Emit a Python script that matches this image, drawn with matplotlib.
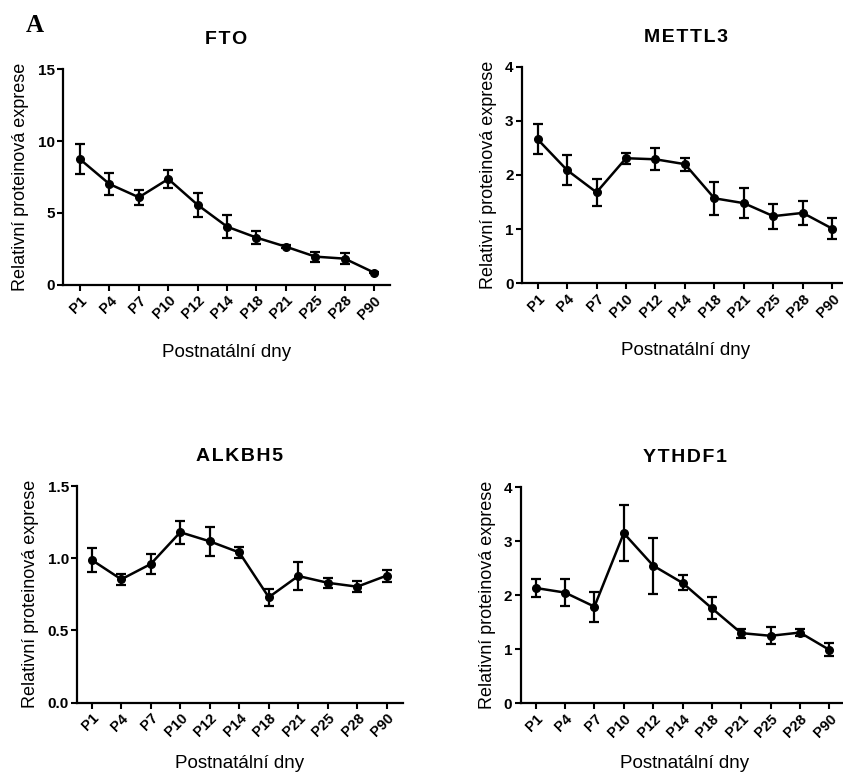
import matplotlib
matplotlib.use("Agg")
import matplotlib.pyplot as plt
import numpy as np

plt.rcParams['font.family'] = ['Liberation Sans', 'DejaVu Sans']

days = ["P1", "P4", "P7", "P10", "P12", "P14", "P18", "P21", "P25", "P28", "P90"]

fto_mean = [8.73, 7.01, 6.09, 7.36, 5.56, 4.05, 3.29, 2.66, 1.97, 1.83, 0.86]
fto_err = [1.05, 0.75, 0.50, 0.65, 0.83, 0.80, 0.45, 0.10, 0.35, 0.37, 0.06]

mettl3_mean = [2.66, 2.09, 1.68, 2.31, 2.29, 2.20, 1.57, 1.48, 1.24, 1.30, 1.01]
mettl3_err = [0.28, 0.28, 0.25, 0.10, 0.20, 0.12, 0.30, 0.28, 0.23, 0.22, 0.19]

alkbh5_mean = [0.988, 0.854, 0.96, 1.18, 1.117, 1.04, 0.73, 0.877, 0.83, 0.803, 0.88]
alkbh5_err = [0.083, 0.04, 0.07, 0.08, 0.10, 0.04, 0.06, 0.095, 0.035, 0.037, 0.042]

ythdf1_mean = [2.136, 2.05, 1.79, 3.15, 2.55, 2.23, 1.76, 1.30, 1.25, 1.31, 0.99]
ythdf1_err = [0.16, 0.25, 0.28, 0.52, 0.52, 0.14, 0.20, 0.085, 0.16, 0.07, 0.12]

W, H = 843, 773
fig = plt.figure(figsize=(W / 100, H / 100), dpi=100)

def px_axes(left, top, right, bottom):
    return fig.add_axes([left / W, 1 - bottom / H, (right - left) / W, (bottom - top) / H])

panels = [
    ("FTO", fto_mean, fto_err, (63, 69, 390, 285), (0, 15), [0, 5, 10, 15], ["0", "5", "10", "15"], (-0.58, 10.54), 16),
    ("METTL3", mettl3_mean, mettl3_err, (522, 66.7, 849, 283.3), (0, 4), [0, 1, 2, 3, 4], ["0", "1", "2", "3", "4"], (-0.53, 10.57), 16),
    ("ALKBH5", alkbh5_mean, alkbh5_err, (77.3, 486, 402.7, 702.7), (0, 1.5), [0, 0.5, 1.0, 1.5], ["0.0", "0.5", "1.0", "1.5"], (-0.49, 10.54), 11.5),
    ("YTHDF1", ythdf1_mean, ythdf1_err, (520.7, 487.3, 849, 703.3), (0, 4), [0, 1, 2, 3, 4], ["0", "1", "2", "3", "4"], (-0.51, 10.67), 11),
]

x = np.arange(len(days))
for title, mean, err, box, ylim, yt, ytl, xlim, xpad in panels:
    ax = px_axes(*box)
    ax.errorbar(x, mean, yerr=err, color="black", lw=1.8, marker="o", ms=5.5,
                capsize=3.5, capthick=1.6, elinewidth=1.6, clip_on=False, zorder=3)
    ax.set_xlim(*xlim)
    ax.set_ylim(*ylim)
    ax.set_yticks(yt)
    ax.set_yticklabels(ytl, fontweight="bold", fontsize=11)
    ax.set_xticks(x)
    ax.set_xticklabels(days, rotation=45, ha="right", rotation_mode="anchor",
                       fontweight="bold", fontsize=10.5)
    for s in ["top", "right"]:
        ax.spines[s].set_visible(False)
    for s in ["left", "bottom"]:
        ax.spines[s].set_linewidth(1.6)
    ax.tick_params(axis="both", direction="out", length=4.5, width=1.5, pad=1.5)
    ax.set_title("\u200a".join(title), fontsize=14, fontweight="bold", pad=18)
    ax.set_ylabel("Relativní proteinová exprese", fontsize=13, labelpad=6)
    ax.set_xlabel("Postnatální dny", fontsize=13.5, labelpad=xpad)

fig.text(34.5 / W, 1 - 31.7 / H, "A", fontsize=18, fontweight="bold",
         family="Liberation Serif", ha="center", va="baseline")

fig.savefig("out.png", dpi=100)
